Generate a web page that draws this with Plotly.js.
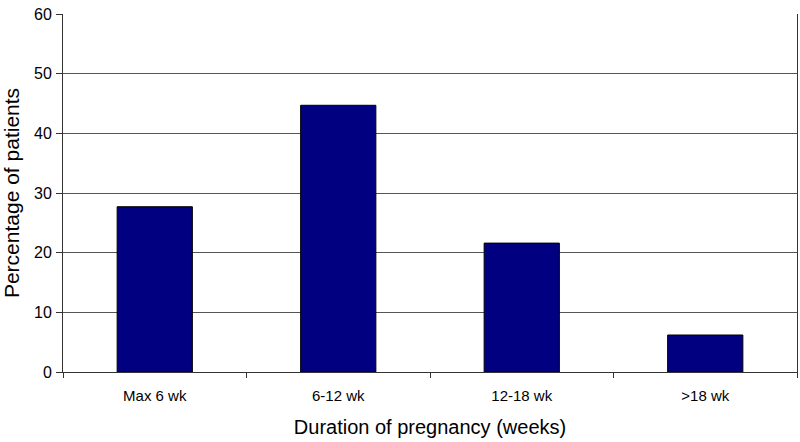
<!DOCTYPE html>
<html>
<head>
<meta charset="utf-8">
<script src="https://cdn.plot.ly/plotly-3.0.1.min.js"></script>
<style>html,body{margin:0;padding:0;background:#fff;}#chart{width:800px;height:442px;}</style>
</head>
<body>
<div id="chart"></div>
<script>
const categories = ["Max 6 wk", "6-12 wk", "12-18 wk", ">18 wk"];
const percentages = [27.7, 44.7, 21.6, 6.2];
const yTickValues = [0, 10, 20, 30, 40, 50, 60];

const trace = {
  type: "bar",
  x: categories,
  y: percentages,
  marker: { color: "#000080", line: { color: "#000000", width: 1 } },
  hoverinfo: "x+y"
};

const layout = {
  width: 800,
  height: 442,
  margin: { l: 63, r: 3, t: 14, b: 70 },
  paper_bgcolor: "#ffffff",
  plot_bgcolor: "#ffffff",
  bargap: 0.59,
  showlegend: false,
  font: { family: "Liberation Sans, Arial, sans-serif", color: "#000000" },
  xaxis: {
    type: "category",
    tickson: "boundaries",
    ticks: "outside",
    ticklen: 5,
    tickcolor: "#333333",
    showline: true,
    linecolor: "#333333",
    linewidth: 1,
    showgrid: false,
    ticklabelstandoff: 10,
    tickfont: { size: 15 },
    title: { text: "Duration of pregnancy (weeks)", font: { size: 20 }, standoff: 16 }
  },
  yaxis: {
    range: [0, 60],
    tickvals: yTickValues,
    ticks: "outside",
    ticklen: 6,
    tickcolor: "#333333",
    showline: true,
    mirror: true,
    linecolor: "#333333",
    linewidth: 1,
    showgrid: true,
    gridcolor: "#555555",
    gridwidth: 1,
    zeroline: false,
    ticklabelstandoff: 1,
    tickfont: { size: 16 },
    title: { text: "Percentage of patients", font: { size: 21 }, standoff: 10 }
  }
};

Plotly.newPlot("chart", [trace], layout, { displayModeBar: false, staticPlot: true });
</script>
</body>
</html>
